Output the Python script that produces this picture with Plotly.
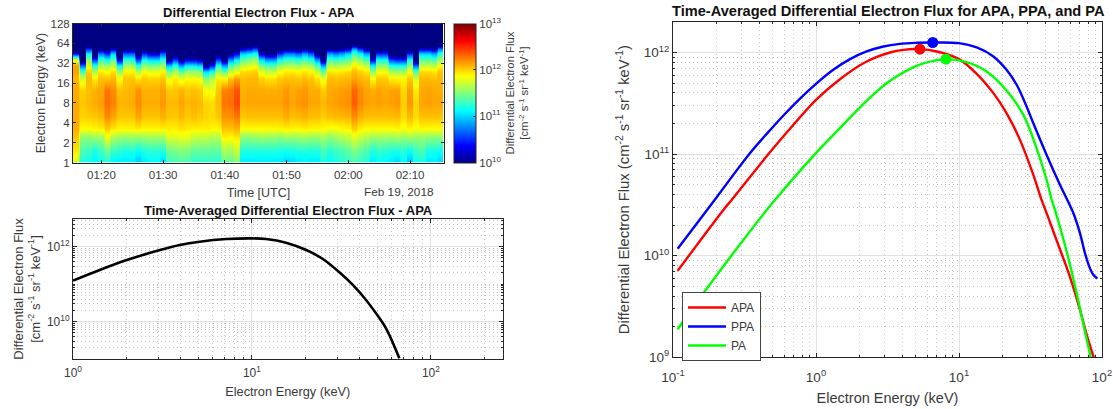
import numpy as np
import pandas as pd
import plotly.graph_objects as go

W, H = 1113, 409

# ---- spectrogram data: log10 flux, one list per energy row, 60 one-minute columns
heat_energy_kev = [1, 1.5, 2.5, 3.3, 5, 8, 13, 19, 24, 30, 37, 45, 54, 64, 128]
flux_e1 = [11.75,11.2,11.18,11.1,11.15,11.22,11.08,11.05,11.05,11.05,10.95,11.05,11.1,11.1,11,11.3,11.32,11.35,11.33,11.25,11.25,11.25,11.25,11.22,11.42,11.42,11.5,11.05,11.05,11.05,11.05,11.05,11.05,11.05,11,11,11.05,11.08,11.05,11.05,11.2,11.12,11.18,11.22,11.28,11.32,11.28,11.2,11.05,11.12,11.1,11.05,11,11.1,10.95,11.15,11.2,11.05,11.05,11]
flux_e1p5 = [11.95,11.35,11.3,11.2,11.3,11.45,11.3,11.25,11.2,11.22,11.15,11.22,11.25,11.25,11.22,11.45,11.48,11.52,11.5,11.42,11.42,11.42,11.4,11.4,11.62,11.6,11.72,11.22,11.22,11.22,11.22,11.22,11.22,11.2,11.18,11.2,11.22,11.22,11.22,11.22,11.35,11.25,11.3,11.35,11.4,11.5,11.42,11.35,11.22,11.28,11.25,11.22,11.2,11.25,11.15,11.3,11.35,11.2,11.2,11.15]
flux_e2p5 = [12.05,11.55,11.55,11.6,11.6,11.85,11.65,11.6,11.58,11.6,11.58,11.6,11.62,11.6,11.62,11.78,11.78,11.82,11.8,11.72,11.7,11.7,11.65,11.65,11.92,11.9,11.95,11.55,11.55,11.58,11.6,11.58,11.58,11.55,11.6,11.58,11.6,11.62,11.58,11.58,11.62,11.55,11.6,11.65,11.7,11.8,11.72,11.65,11.6,11.6,11.6,11.6,11.62,11.58,11.62,11.58,11.58,11.55,11.55,11.55]
flux_e3p3 = [12.12,11.88,11.88,11.9,11.92,12.02,11.95,11.9,11.9,11.9,11.93,11.9,11.9,11.9,11.92,11.92,11.92,11.95,11.93,11.92,11.92,11.92,11.9,11.9,12.05,12.05,12.1,11.88,11.88,11.88,11.88,11.88,11.88,11.9,11.92,11.9,11.9,11.92,11.9,11.9,11.88,11.85,11.85,11.88,11.9,12.02,11.92,11.88,11.88,11.88,11.88,11.88,11.9,11.85,11.9,11.85,11.88,11.88,11.88,11.88]
flux_e5 = [12.12,12,12.02,12.04,12.08,12.22,12.14,12.04,12.04,12.04,12.14,12.05,12.05,12.05,12.1,12.04,12.03,12.08,12.03,12.06,12.03,12,11.98,12.03,12.2,12.2,12.28,12.04,12.06,12.06,12.06,12.06,12.06,12.06,12.12,12.06,12.08,12.1,12.06,12.06,12.02,12.06,12.08,12.08,12.1,12.22,12.11,12.06,12.06,12.06,12.06,12.06,12.08,11.98,12.08,11.98,12.06,12.06,12.06,12.05]
flux_e8 = [12.12,12.04,12.08,12.12,12.16,12.3,12.24,12.1,12.1,12.12,12.22,12.12,12.12,12.12,12.18,12.08,12.08,12.14,12.08,12.1,12.08,12.0,11.98,12.08,12.28,12.3,12.42,12.12,12.14,12.14,12.14,12.14,12.14,12.14,12.2,12.14,12.18,12.2,12.14,12.14,12.08,12.14,12.16,12.18,12.2,12.36,12.22,12.16,12.14,12.16,12.14,12.16,12.18,12.02,12.18,12.0,12.14,12.16,12.14,12.14]
flux_e13 = [12.12,12.01,12.06,12.1,12.13,12.28,12.21,12.06,12.07,12.1,12.19,12.1,12.1,12.1,12.15,12.03,12.04,12.09,12.03,12.06,12.02,11.85,11.82,12.04,12.24,12.26,12.38,12.1,12.12,12.12,12.12,12.11,12.11,12.12,12.17,12.12,12.15,12.17,12.12,12.11,12.02,12.12,12.14,12.15,12.17,12.32,12.2,12.14,12.11,12.14,12.12,12.14,12.15,11.98,12.15,11.93,12.12,12.14,12.12,12.11]
flux_e19 = [12.08,11.75,12.08,11.92,12.06,12.05,12.08,11.87,12.04,12.04,11.95,12.03,12,12,12.04,11.82,11.92,11.8,11.87,11.87,11.85,11.5,11.65,11.92,11.88,12.05,12.15,12.07,12.08,12.08,12,11.96,11.96,12.03,12.06,12.06,12.04,12.07,12.04,11.96,11.8,12.07,12.06,12.07,12.08,12.14,12.1,12.07,11.87,12.03,12.03,11.92,11.9,11.9,12.03,11.75,12.08,12.08,12.07,12.08]
flux_e24 = [12.15,11.36,12.02,11.63,11.93,11.86,11.98,11.56,11.9,11.9,11.63,11.86,11.8,11.8,11.9,11.48,11.63,11.42,11.56,11.56,11.52,11.02,11.22,11.63,11.42,11.7,11.82,11.98,12,12.03,11.8,11.7,11.7,11.86,11.93,11.93,11.9,11.95,11.9,11.7,11.42,11.95,11.93,11.95,11.98,12.08,12.02,11.95,11.56,11.86,11.86,11.63,11.6,11.6,11.86,11.36,11.98,11.98,11.95,12.05]
flux_e30 = [12.15,10.7,11.8,11.22,11.63,11.56,11.7,11.1,11.6,11.6,11.22,11.56,11.48,11.48,11.6,10.95,11.22,10.85,11.1,11.1,11.02,10.05,10.45,11.22,10.85,11.36,11.52,11.7,11.77,11.82,11.48,11.36,11.36,11.56,11.63,11.63,11.6,11.67,11.6,11.36,10.85,11.67,11.63,11.67,11.7,11.9,11.8,11.67,11.1,11.56,11.56,11.22,11.18,11.18,11.56,10.7,11.7,11.7,11.67,11.87]
flux_e37 = [11.8,9.8,11.52,10.55,11.28,11.15,11.4,10.3,11.22,11.22,10.55,11.15,11.02,11.02,11.22,10.05,10.55,9.95,10.3,10.3,10.15,9.5,9.7,10.55,9.95,10.8,11.08,11.4,11.48,11.55,11.02,10.8,10.8,11.15,11.28,11.28,11.22,11.33,11.22,10.8,9.95,11.33,11.28,11.33,11.4,11.63,11.52,11.33,10.3,11.15,11.15,10.55,10.45,10.45,11.15,9.8,11.4,11.4,11.33,11.58]
flux_e45 = [10.4,9.5,11.12,9.8,10.75,10.5,11,9.7,10.65,10.65,9.8,10.5,10.25,10.25,10.65,9.6,9.8,9.5,9.7,9.7,9.6,9.5,9.5,9.8,9.5,10,10.35,11,11.08,11.18,10.25,10,10,10.5,10.75,10.75,10.65,10.85,10.65,10,9.5,10.85,10.75,10.85,11,11.33,11.12,10.85,9.7,10.5,10.5,9.8,9.75,9.75,10.5,9.5,11,11,10.85,11.25]
flux_e54 = [9.5,9.5,10.45,9.5,9.95,9.8,10.2,9.5,9.9,9.9,9.5,9.8,9.6,9.6,9.9,9.5,9.5,9.5,9.5,9.5,9.5,9.5,9.5,9.5,9.5,9.5,9.7,10.2,10.35,10.55,9.6,9.5,9.5,9.8,9.95,9.95,9.9,10.05,9.9,9.5,9.5,10.05,9.95,10.05,10.2,10.85,10.45,10.05,9.5,9.8,9.8,9.5,9.5,9.5,9.8,9.5,10.2,10.2,10.05,10.7]
flux_e64 = [9.5] * 60
flux_e128 = [9.5] * 60
heat_rows = [flux_e1, flux_e1p5, flux_e2p5, flux_e3p3, flux_e5, flux_e8, flux_e13, flux_e19,
             flux_e24, flux_e30, flux_e37, flux_e45, flux_e54, flux_e64, flux_e128]
heat_start = "2018-02-19 01:15:24"
time_ticks = ["01:20", "01:30", "01:40", "01:50", "02:00", "02:10"]
energy_ticks = [1, 2, 4, 8, 16, 32, 64, 128]

# ---- APA average spectrum
apa_energy = [1, 1.41, 2, 3.06, 3.95, 5.1, 7.2, 10, 12, 15.5, 20.1, 24.9, 30.8, 36.6, 43.4, 49.3, 56.1, 66.6]
apa_flux = [1.24e11, 2.39e11, 4.4e11, 8.15e11, 1.11e12, 1.36e12, 1.6e12, 1.67e12, 1.6e12, 1.28e12,
            8.15e11, 4.69e11, 2.07e11, 9.5e10, 3.78e10, 1.67e10, 6.6e9, 1.05e9]

# ---- three-region comparison
apa_e = [0.1078,0.225,0.257,0.465,0.624,1,1.47,2.26,3.29,4.08,5.33,6.98,10,13.3,17.4,21.5,26.7,33.1,37.8,41,48.2,59.7,70.2,78.2,87.9]
apa_f = [7.1e9,2.82e10,3.54e10,1e11,1.63e11,3.42e11,5.46e11,8.15e11,1e12,1.062e12,1.078e12,1.023e12,8.6e11,6.17e11,3.98e11,2.53e11,1.38e11,6.24e10,3.54e10,2.62e10,1.41e10,6.2e9,2.92e9,1.66e9,9.8e8]
ppa_e = [0.1078,0.172,0.264,0.345,0.452,0.592,0.773,1,1.32,1.73,2.26,2.96,3.86,5.06,6.61,10,13.3,17.4,21.5,25.3,29.7,33.1,41,50.8,63.1,70.2,76,82.4,86.9,92.7]
ppa_f = [1.17e10,2.78e10,6.24e10,1.02e11,1.58e11,2.4e11,3.52e11,4.91e11,6.75e11,8.6e11,1.023e12,1.146e12,1.216e12,1.245e12,1.254e12,1.236e12,1.12e12,9.14e11,6.75e11,4.81e11,2.94e11,2.01e11,9.8e10,4.98e10,2.62e10,1.66e10,1.06e10,7.5e9,6.5e9,5.96e9]
pa_e = [0.1078,0.163,0.452,0.516,0.984,1.47,2.26,3.29,5.06,6.61,8.11,11.3,15.6,21.5,28.2,34.9,41,44.5,46.9,56.6,66.5,76,83.4]
pa_f = [1.89e9,4.27e9,2.82e10,3.54e10,1e11,1.8e11,3.34e11,5.26e11,7.4e11,8.27e11,8.6e11,8.03e11,6.5e11,4.23e11,2.43e11,1.14e11,5.57e10,3.54e10,2.82e10,1.1e10,4.27e9,1.79e9,1e9]
peak_names = ["APA", "PPA", "PA"]
peak_e = [5.33, 6.55, 8.11]
peak_f = [1.078e12, 1.254e12, 8.6e11]
peak_colors = ["#ff0000", "#0000ff", "#00ff00"]

FONT = "Liberation Sans, Arial, sans-serif"
INK = "#3a3a3a"
AXL = "#262626"
GRID = "#e2e2e2"
MGRID = "#c4c4c4"

def fx(p): return p / W
def fy(p): return 1 - p / H

JET = [[0, "rgb(0,0,131)"], [0.125, "rgb(0,0,255)"], [0.375, "rgb(0,255,255)"],
       [0.625, "rgb(255,255,0)"], [0.875, "rgb(255,0,0)"], [1, "rgb(128,0,0)"]]

REP = 4
z = np.repeat(np.array(heat_rows), REP, axis=1)
x_t = pd.Timestamp(heat_start) + pd.to_timedelta((np.arange(60 * REP) + 0.5) * 60 / REP, unit="s")

fig = go.Figure()
fig.add_trace(go.Heatmap(
    x=x_t, y=np.log2(heat_energy_kev), z=z, zmin=10, zmax=13, zsmooth="best",
    colorscale=JET, xaxis="x", yaxis="y", hoverinfo="skip",
    colorbar=dict(
        x=fx(454), xanchor="left", xpad=0, thickness=22, thicknessmode="pixels",
        y=fy(23.5), yanchor="top", ypad=0, len=139 / H, lenmode="fraction",
        tickvals=[10, 11, 12, 13],
        ticktext=["10<sup>10</sup>", "10<sup>11</sup>", "10<sup>12</sup>", "10<sup>13</sup>"],
        ticks="inside", ticklen=3, tickcolor=AXL, tickfont=dict(size=11.5, color=INK, family=FONT),
        outlinecolor=AXL, outlinewidth=1,
        title=dict(text="Differential Electron Flux<br>[cm<sup>-2</sup> s<sup>-1</sup> sr<sup>-1</sup> keV<sup>-1</sup>]",
                   side="right", font=dict(size=11.3, color=INK, family=FONT)),
    ),
))
fig.add_trace(go.Scatter(x=apa_energy, y=apa_flux, mode="lines", line=dict(color="black", width=2.6, shape="spline", smoothing=1.0),
                         xaxis="x2", yaxis="y2", showlegend=False))
for name, ex, fl, col in [("APA", apa_e, apa_f, "#ff0000"), ("PPA", ppa_e, ppa_f, "#0000ff"), ("PA", pa_e, pa_f, "#00ff00")]:
    fig.add_trace(go.Scatter(x=ex, y=fl, mode="lines", name=name, line=dict(color=col, width=2.4, shape="spline", smoothing=1.0),
                             xaxis="x3", yaxis="y3"))
for name, ex, fl, col in zip(peak_names, peak_e, peak_f, peak_colors):
    fig.add_trace(go.Scatter(x=[ex], y=[fl], mode="markers", marker=dict(color=col, size=11), name=name,
                             xaxis="x3", yaxis="y3", showlegend=False))

def sup(labels): return ["10<sup>%d</sup>" % v for v in labels]

common = dict(showline=True, linecolor=AXL, linewidth=1, mirror="ticks", ticks="inside", tickcolor=AXL, zeroline=False)
loggrid = dict(showgrid=True, gridcolor=GRID, gridwidth=1.4,
               minor=dict(showgrid=True, griddash="1px,3px", gridcolor=MGRID, gridwidth=1, ticks="inside", ticklen=2, tickcolor=AXL, dtick="D1"))

tick_dt = [pd.Timestamp("2018-02-19 " + t) for t in time_ticks]
fig.update_layout(
    width=W, height=H, margin=dict(l=0, r=0, t=0, b=0, autoexpand=False), paper_bgcolor="white", plot_bgcolor="white",
    font=dict(family=FONT, color=INK),
    xaxis=dict(domain=[fx(73), fx(444)], anchor="y", type="date",
               range=["2018-02-19 01:15:24", "2018-02-19 02:15:30"], tickmode="array", tickvals=tick_dt, ticktext=time_ticks,
               tickfont=dict(size=11.5), ticklen=3, showgrid=False, ticklabelstandoff=2,
               title=dict(text="Time [UTC]", font=dict(size=12.5), standoff=7), **common),
    yaxis=dict(domain=[fy(162.5), fy(23.5)], anchor="x", range=[0, 7], tickmode="array",
               tickvals=[float(np.log2(v)) for v in energy_ticks], ticktext=[str(v) for v in energy_ticks],
               tickfont=dict(size=11.5), ticklen=3, showgrid=False,
               title=dict(text="Electron Energy (keV)", font=dict(size=12.3), standoff=2), **common),
    xaxis2=dict(domain=[fx(73), fx(502.5)], anchor="y2", type="log", range=[0, 2.4], tickmode="array",
                tickvals=[1, 10, 100], ticktext=sup([0, 1, 2]), tickfont=dict(size=12), ticklen=4, ticklabelstandoff=3,
                title=dict(text="Electron Energy (keV)", font=dict(size=12.8), standoff=7), **common, **loggrid),
    yaxis2=dict(domain=[fy(359), fy(219)], anchor="x2", type="log", range=[9, 12.74], tickmode="array",
                tickvals=[1e10, 1e12], ticktext=sup([10, 12]), tickfont=dict(size=12), ticklen=4,
                title=dict(text="Differential Electron Flux<br>[cm<sup>-2</sup> s<sup>-1</sup> sr<sup>-1</sup> keV<sup>-1</sup>]",
                           font=dict(size=13), standoff=3), **common, **loggrid),
    xaxis3=dict(domain=[fx(673), fx(1102)], anchor="y3", type="log", range=[-1, 2], tickmode="array",
                tickvals=[0.1, 1, 10, 100], ticktext=sup([-1, 0, 1, 2]), tickfont=dict(size=13.5), ticklen=4, ticklabelstandoff=7,
                title=dict(text="Electron Energy (keV)", font=dict(size=14.5), standoff=9), **common, **loggrid),
    yaxis3=dict(domain=[fy(357.3), fy(22)], anchor="x3", type="log", range=[9, 12.3], tickmode="array",
                tickvals=[1e9, 1e10, 1e11, 1e12], ticktext=sup([9, 10, 11, 12]), tickfont=dict(size=13.5), ticklen=4,
                title=dict(text="Differential Electron Flux (cm<sup>-2</sup> s<sup>-1</sup> sr<sup>-1</sup> keV<sup>-1</sup>)",
                           font=dict(size=14.8), standoff=10), **common, **loggrid),
    legend=dict(x=fx(682), xanchor="left", y=fy(292), yanchor="top", bgcolor="white", bordercolor="#444444", borderwidth=1,
                font=dict(size=12, color=INK), itemwidth=38, tracegroupgap=0),
    annotations=[
        dict(text="<b>Differential Electron Flux - APA</b>", x=fx(258.5), y=fy(12), xref="paper", yref="paper", showarrow=False,
             xanchor="center", yanchor="middle", font=dict(size=13, color="#111111")),
        dict(text="<b>Time-Averaged Differential Electron Flux - APA</b>", x=fx(288), y=fy(210.5), xref="paper", yref="paper", showarrow=False,
             xanchor="center", yanchor="middle", font=dict(size=13, color="#111111")),
        dict(text="<b>Time-Averaged Differential Electron Flux for APA, PPA, and PA</b>", x=fx(888), y=fy(11), xref="paper", yref="paper", showarrow=False,
             xanchor="center", yanchor="middle", font=dict(size=14.6, color="#111111")),
        dict(text="Feb 19, 2018", x=fx(399), y=fy(192), xref="paper", yref="paper", showarrow=False,
             xanchor="center", yanchor="middle", font=dict(size=11.8, color=INK)),
    ],
)
fig.write_html("out.html", config={"displayModeBar": False}, post_script="document.body.style.margin='0';")
